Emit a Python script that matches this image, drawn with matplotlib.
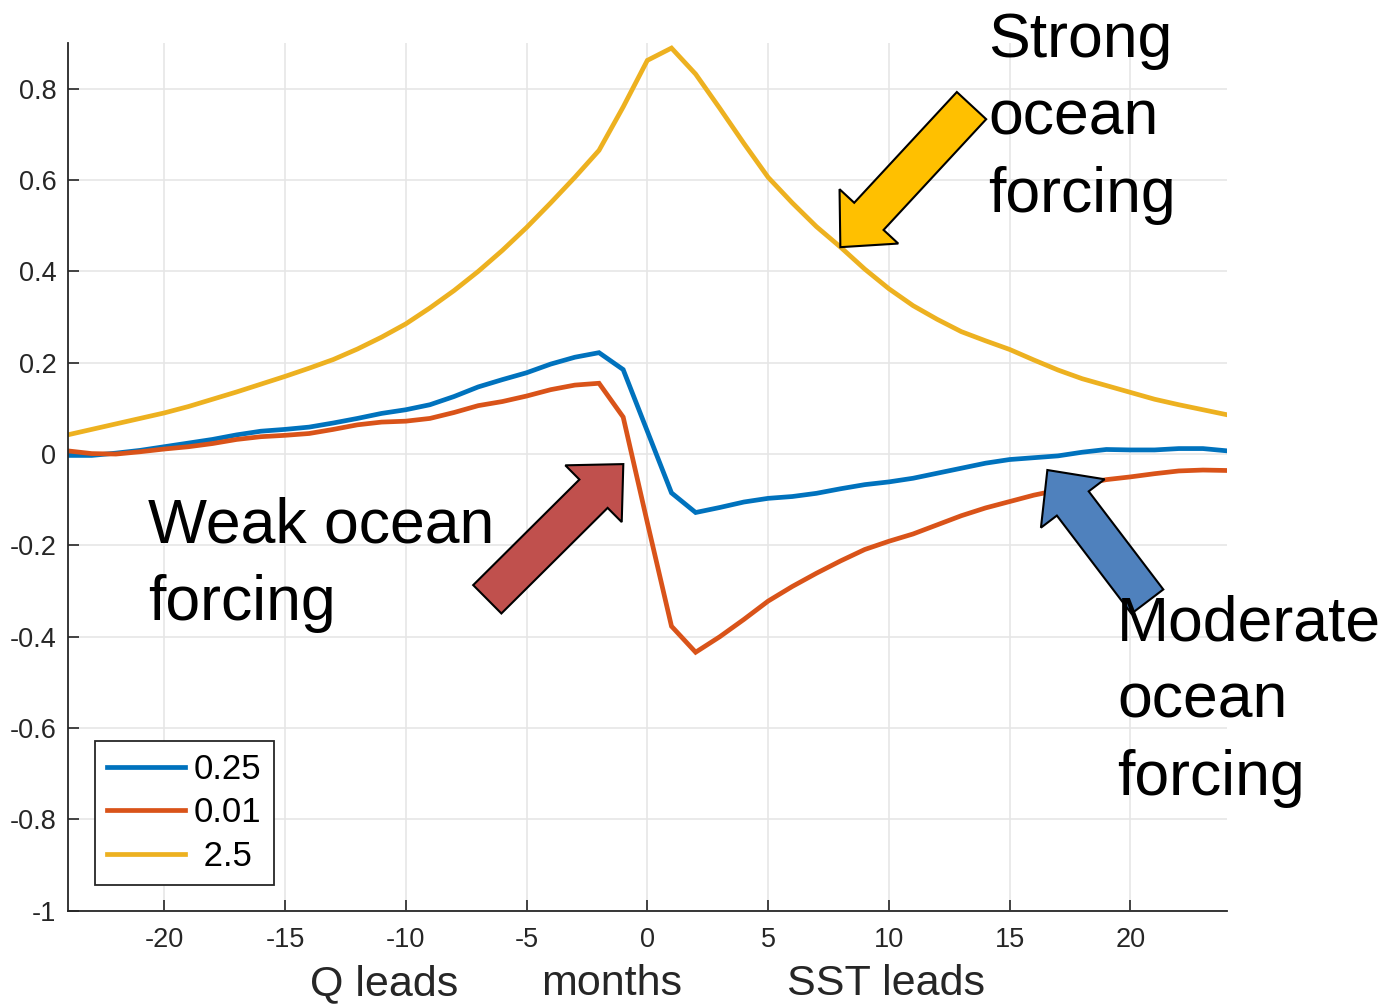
import numpy as np
import matplotlib
matplotlib.use("Agg")
import matplotlib.pyplot as plt
from matplotlib.patches import FancyArrow
from matplotlib.transforms import IdentityTransform

plt.rcParams['font.family'] = ['Liberation Sans', 'DejaVu Sans']
plt.rcParams['axes.unicode_minus'] = False

# lag in months (negative: Q leads, positive: SST leads)
lags = np.arange(-24, 25)

# lagged correlation for three ocean forcing strengths
corr_025 = [-0.003, -0.003, 0.002, 0.008, 0.016, 0.024, 0.032, 0.042, 0.050, 0.054,
            0.059, 0.068, 0.078, 0.089, 0.097, 0.108, 0.126, 0.147, 0.163, 0.178,
            0.197, 0.212, 0.222, 0.185, 0.050, -0.085, -0.128, -0.117, -0.105, -0.097,
            -0.093, -0.086, -0.076, -0.067, -0.061, -0.053, -0.042, -0.031, -0.020, -0.012,
            -0.008, -0.004, 0.004, 0.010, 0.009, 0.009, 0.012, 0.012, 0.007]
corr_001 = [0.007, 0.001, 0.000, 0.005, 0.011, 0.016, 0.023, 0.032, 0.038, 0.041,
            0.045, 0.054, 0.064, 0.070, 0.072, 0.078, 0.091, 0.106, 0.115, 0.127,
            0.141, 0.151, 0.155, 0.081, -0.150, -0.377, -0.434, -0.400, -0.362, -0.322,
            -0.290, -0.261, -0.234, -0.209, -0.191, -0.175, -0.155, -0.135, -0.118, -0.104,
            -0.090, -0.079, -0.066, -0.056, -0.050, -0.043, -0.037, -0.035, -0.036]
corr_25 = [0.042, 0.054, 0.066, 0.078, 0.090, 0.104, 0.120, 0.136, 0.153, 0.170,
           0.188, 0.207, 0.230, 0.256, 0.285, 0.320, 0.358, 0.400, 0.446, 0.496,
           0.550, 0.606, 0.665, 0.760, 0.862, 0.889, 0.832, 0.757, 0.680, 0.606,
           0.550, 0.498, 0.453, 0.405, 0.362, 0.325, 0.295, 0.268, 0.248, 0.229,
           0.206, 0.184, 0.165, 0.150, 0.135, 0.120, 0.108, 0.097, 0.086]

labels = ['0.25', '0.01', ' 2.5']
colors = ['#0072BD', '#D95319', '#EDB120']

xticks = [-20, -15, -10, -5, 0, 5, 10, 15, 20]
yticks = [-1, -0.8, -0.6, -0.4, -0.2, 0, 0.2, 0.4, 0.6, 0.8]
ytick_labels = ['-1', '-0.8', '-0.6', '-0.4', '-0.2', '0', '0.2', '0.4', '0.6', '0.8']

fig = plt.figure(figsize=(13.93, 10.08), dpi=100)
ax = fig.add_axes([0.0485, 0.0965, 0.8324, 0.8608])

for ys, lab, col in zip([corr_025, corr_001, corr_25], labels, colors):
    ax.plot(lags, ys, color=col, lw=3.4, label=lab, solid_joinstyle='miter')

ax.set_xlim(-24, 24)
ax.set_ylim(-1, 0.9)
ax.set_xticks(xticks)
ax.set_yticks(yticks)
ax.set_yticklabels(ytick_labels)
ax.grid(True, color='#e6e6e6', lw=1.2)
ax.set_axisbelow(True)
for side in ['top', 'right']:
    ax.spines[side].set_visible(False)
for side in ['left', 'bottom']:
    ax.spines[side].set_color('#262626')
    ax.spines[side].set_linewidth(1.3)
ax.tick_params(direction='in', length=8, width=1.2, colors='#262626', labelsize=19.5)
ax.tick_params(axis='x', pad=12)
ax.tick_params(axis='y', pad=8)

leg = ax.legend(loc='lower left', bbox_to_anchor=(0.0237, 0.0296), borderaxespad=0,
                fontsize=25, handlelength=2.25, handletextpad=0.25, borderpad=0.35,
                labelspacing=0.3, fancybox=False, framealpha=1, edgecolor='#262626')
leg.get_frame().set_linewidth(1.3)

# axis label split into three parts
xt = ax.get_xaxis_transform()
for xpos, txt in [(-10.9, 'Q leads'), (-1.48, 'months'), (9.88, 'SST leads')]:
    ax.text(xpos, -0.0972, txt, transform=xt, ha='center', va='baseline',
            fontsize=31, color='#262626')


def block_arrow(tail, tip, color):
    (x0, y0), (x1, y1) = ax.transData.transform([tail, tip])
    arr = FancyArrow(x0, y0, x1 - x0, y1 - y0, width=40, head_width=80,
                     head_length=42, length_includes_head=True, fc=color,
                     ec='black', lw=1.5, transform=IdentityTransform())
    fig.add_artist(arr)


block_arrow((13.42, 0.763), (7.99, 0.453), '#FFC000')
block_arrow((-6.625, -0.318), (-0.994, -0.022), '#C0504D')
block_arrow((20.70, -0.323), (16.56, -0.035), '#4F81BD')

# baseline of the last line of each note
W, H = 1393, 1008
fig.text(988 / W, 1 - 212 / H, 'Strong\nocean\nforcing', fontsize=45,
         va='baseline', linespacing=1.4, zorder=5)
fig.text(148 / W, 1 - 620 / H, 'Weak ocean\nforcing', fontsize=45,
         va='baseline', linespacing=1.4, zorder=5)
fig.text(1117 / W, 1 - 795 / H, 'Moderate\nocean\nforcing', fontsize=45,
         va='baseline', linespacing=1.4, zorder=5)

fig.savefig('out.png', dpi=100)
